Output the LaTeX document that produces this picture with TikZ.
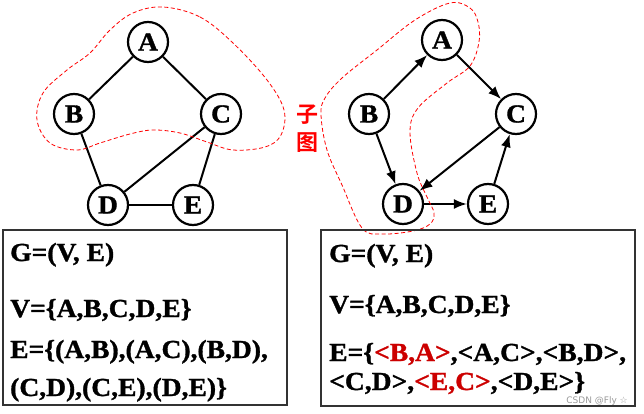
\documentclass[tikz,border=0pt]{standalone}
\usepackage{fontspec}
\setmainfont{Liberation Serif}
\newfontfamily\tnr[FakeStretch=1.06,FakeBold=1.2]{Liberation Serif}
\newfontfamily\cjk{Noto Sans CJK SC Bold}
\newfontfamily\wm{DejaVu Sans}
\usetikzlibrary{arrows.meta}
\definecolor{dred}{HTML}{CC0000}
\begin{document}
\begin{tikzpicture}[x=1pt,y=-1pt,
  vtx/.style={circle,draw,line width=2.2pt,minimum size=40pt,inner sep=0pt,font=\tnr\fontsize{26}{26}\selectfont\bfseries},
  edge/.style={line width=2pt},
  arr/.style={line width=2pt,-{Latex[length=13pt,width=10pt]}},
  blob/.style={red,line width=0.8pt,dash pattern=on 4pt off 2.5pt},
  boxs/.style={draw=black!80,line width=1.4pt},
  zi/.style={text=red,font=\cjk\fontsize{22}{22}\selectfont,inner sep=0pt},
  txt/.style={anchor=base west,inner sep=0pt,font=\tnr\fontsize{26}{26}\selectfont\bfseries}]
\useasboundingbox (0,0) rectangle (644,414);
% left graph
\node[vtx] (lA) at (148,42) {A};
\node[vtx] (lB) at (74,114) {B};
\node[vtx] (lC) at (221,114) {C};
\node[vtx] (lD) at (108,205) {D};
\node[vtx] (lE) at (193,205) {E};
\draw[edge] (lA) -- (lB);
\draw[edge] (lA) -- (lC);
\draw[edge] (lB) -- (lD);
\draw[edge] (lC) -- (lD);
\draw[edge] (lC) -- (lE);
\draw[edge] (lD) -- (lE);
% right graph
\node[vtx] (rA) at (442,40) {A};
\node[vtx] (rB) at (369,114) {B};
\node[vtx] (rC) at (516,114) {C};
\node[vtx] (rD) at (403,204) {D};
\node[vtx] (rE) at (488,204) {E};
\draw[arr] (rB) -- (rA);
\draw[arr] (rA) -- (rC);
\draw[arr] (rB) -- (rD);
\draw[arr] (rC) -- (rD);
\draw[arr] (rD) -- (rE);
\draw[arr] (rE) -- (rC);
% subgraph outlines
\draw[blob] plot[smooth cycle,tension=0.6] coordinates {
  (163,7) (200,17) (233,43) (267,80) (284,110) (281,135) (265,147) (233,150)
  (207,142) (180,133) (153,130) (130,134) (100,143) (77,150) (50,143) (37,120)
  (43,93) (67,70) (90,53) (110,30) (133,13)};
\draw[blob] plot[smooth cycle,tension=0.6] coordinates {
  (450,3) (470,8) (478,22) (479,42) (470,66) (447,83) (418,108) (410,132)
  (417,173) (427,197) (434,213) (430,224) (413,231) (382,234) (362,228)
  (342,185) (327,150) (321,115) (325,98) (342,78) (377,50) (415,20)};
\node[zi] (z1) at (307,115) {子};
\node[zi] (z2) at (307,143) {图};
% boxes
\draw[boxs] (3,230) rectangle (287,405);
\draw[boxs] (321,230) rectangle (635,406);
\node[txt] (l1) at (10,261) {G=(V, E)};
\node[txt] (l2) at (10,317) {V=\{A,B,C,D,E\}};
\node[txt] (l3) at (10,358) {E=\{(A,B),(A,C),(B,D),};
\node[txt] (l4) at (10,396) {(C,D),(C,E),(D,E)\}};
\node[txt] (r1) at (329,262) {G=(V, E)};
\node[txt] (r2) at (329,313) {V=\{A,B,C,D,E\}};
\node[txt] (r3) at (329,361) {E=\{\textcolor{dred}{<B,A>},<A,C>,<B,D>,};
\node[txt] (r4) at (329,390) {<C,D>,\textcolor{dred}{<E,C>},<D,E>\}};
\node[anchor=base east,inner sep=0pt,text=black!40,font=\wm\fontsize{9}{9}\selectfont] (wm) at (628,403) {CSDN @Fly ☆};
\end{tikzpicture}
\end{document}
